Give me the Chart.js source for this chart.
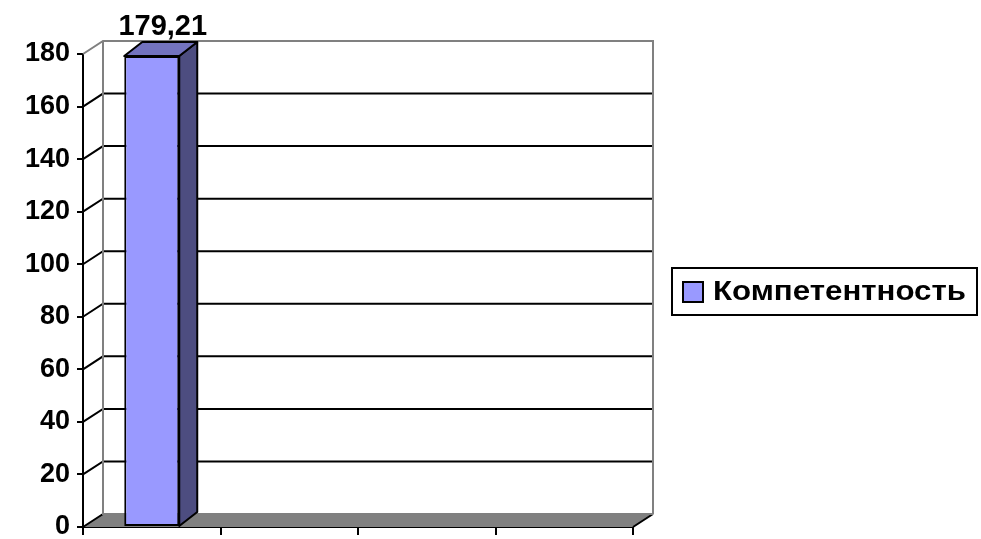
<!DOCTYPE html>
<html>
<head>
<meta charset="utf-8">
<script src="https://cdn.jsdelivr.net/npm/chart.js@4.4.1/dist/chart.umd.min.js"></script>
<style>
    html, body { margin: 0; padding: 0; background: #fff; }
    #wrap { width: 981px; height: 539px; }
</style>
</head>
<body>
<div id="wrap"><canvas id="chart"></canvas></div>
<script>
// data
const categories = ['', '', '', ''];
const seriesName = 'Компетентность';
const seriesValues = [179.21, null, null, null];
const yTickValues = [0, 20, 40, 60, 80, 100, 120, 140, 160, 180];

const FONT = 'Arial, "Liberation Sans", sans-serif';
const FRONT = '#9999ff';
const SIDE = '#4d4d80';
const TOP = '#7373bf';
const WALL_DX = 20, WALL_DY = -13;
const BAR_DX = 18, BAR_DY = -14;

function poly(ctx, pts) {
    ctx.beginPath();
    ctx.moveTo(pts[0][0], pts[0][1]);
    for (let i = 1; i < pts.length; i++) ctx.lineTo(pts[i][0], pts[i][1]);
    ctx.closePath();
}

// back wall, side wall, floor and gridlines of the 3D box
const wallsPlugin = {
    id: 'walls',
    beforeDatasetsDraw(chart) {
        const ctx = chart.ctx;
        const x = chart.scales.x, y = chart.scales.y;
        const l = x.left, r = x.right, t = y.top, b = y.bottom;
        ctx.save();
        ctx.lineWidth = 2;

        // floor
        poly(ctx, [[l, b], [r, b], [r + WALL_DX, b + WALL_DY], [l + WALL_DX, b + WALL_DY]]);
        ctx.fillStyle = '#808080';
        ctx.fill();
        ctx.strokeStyle = '#000';
        ctx.beginPath();
        ctx.moveTo(l, b); ctx.lineTo(l + WALL_DX, b + WALL_DY);
        ctx.moveTo(r, b); ctx.lineTo(r + WALL_DX, b + WALL_DY);
        ctx.stroke();

        // gridlines on side and back wall
        ctx.strokeStyle = '#000';
        y.ticks.forEach(tk => {
            if (tk.value === y.min || tk.value === y.max) return;
            const py = y.getPixelForValue(tk.value);
            ctx.beginPath();
            ctx.moveTo(l, py);
            ctx.lineTo(l + WALL_DX, py + WALL_DY);
            ctx.lineTo(r + WALL_DX, py + WALL_DY);
            ctx.stroke();
        });

        // wall outline
        ctx.strokeStyle = '#808080';
        ctx.beginPath();
        ctx.moveTo(l, t);
        ctx.lineTo(l + WALL_DX, t + WALL_DY);
        ctx.lineTo(r + WALL_DX, t + WALL_DY);
        ctx.lineTo(r + WALL_DX, b + WALL_DY);
        ctx.moveTo(l + WALL_DX, t + WALL_DY);
        ctx.lineTo(l + WALL_DX, b + WALL_DY);
        ctx.lineTo(r + WALL_DX, b + WALL_DY);
        ctx.stroke();
        ctx.restore();
    },
    afterDatasetsDraw(chart) {
        const ctx = chart.ctx;
        const meta = chart.getDatasetMeta(0);
        ctx.save();
        ctx.lineWidth = 2;
        ctx.strokeStyle = '#000';
        ctx.lineJoin = 'round';
        meta.data.forEach((bar, i) => {
            const v = seriesValues[i];
            if (v === null || v === undefined) return;
            const p = bar.getProps(['x', 'y', 'base', 'width'], true);
            const bl = p.x - p.width / 2, br = p.x + p.width / 2;
            // side face
            poly(ctx, [[br, p.y], [br + BAR_DX, p.y + BAR_DY], [br + BAR_DX, p.base + BAR_DY], [br, p.base]]);
            ctx.fillStyle = SIDE;
            ctx.fill();
            ctx.stroke();
            // top face
            poly(ctx, [[bl, p.y], [br, p.y], [br + BAR_DX, p.y + BAR_DY], [bl + BAR_DX, p.y + BAR_DY]]);
            ctx.fillStyle = TOP;
            ctx.fill();
            ctx.stroke();
            // value label
            ctx.fillStyle = '#000';
            ctx.font = 'bold 29px ' + FONT;
            ctx.textAlign = 'center';
            ctx.textBaseline = 'alphabetic';
            ctx.fillText(v.toLocaleString('ru-RU'), p.x + BAR_DX / 2 + 2, p.y + BAR_DY - 7);
        });
        ctx.restore();
    },
    afterDraw(chart) {
        // boxed legend on the right
        const ctx = chart.ctx;
        const area = chart.chartArea;
        ctx.save();
        ctx.font = 'bold 27px ' + FONT;
        const tw = ctx.measureText(seriesName).width;
        const textW = 253; // text in the original is drawn wider than Arial
        const lx = area.right + 39;
        const lh = 47;
        const ly = Math.round((area.top + area.bottom) / 2 - lh / 2 + 1);
        const lw = 41 + textW + 11;
        ctx.lineWidth = 2;
        ctx.strokeStyle = '#000';
        ctx.fillStyle = '#fff';
        ctx.fillRect(lx, ly, lw, lh);
        ctx.strokeRect(lx, ly, lw, lh);
        ctx.fillStyle = FRONT;
        ctx.fillRect(lx + 11, ly + 14, 20, 20);
        ctx.strokeRect(lx + 11, ly + 14, 20, 20);
        ctx.fillStyle = '#000';
        ctx.textAlign = 'left';
        ctx.textBaseline = 'middle';
        ctx.translate(lx + 41, ly + lh / 2 + 1);
        ctx.scale(textW / tw, 1);
        ctx.fillText(seriesName, 0, 0);
        ctx.restore();
    }
};

new Chart(document.getElementById('chart'), {
    type: 'bar',
    data: {
        labels: categories,
        datasets: [{
            label: seriesName,
            data: seriesValues,
            backgroundColor: FRONT,
            borderColor: '#000',
            borderWidth: 2,
            borderSkipped: false,
            barPercentage: 0.4,
            categoryPercentage: 1.0
        }]
    },
    options: {
        responsive: true,
        maintainAspectRatio: false,
        animation: false,
        layout: { padding: { top: 54, right: 348, bottom: 0, left: 0 } },
        plugins: {
            legend: { display: false },
            tooltip: { enabled: false }
        },
        scales: {
            x: {
                offset: true,
                grid: {
                    offset: true,
                    drawOnChartArea: false,
                    drawTicks: true,
                    tickLength: 8,
                    color: '#000',
                    tickColor: '#000',
                    lineWidth: 2
                },
                border: { display: true, color: '#000', width: 2 },
                ticks: { display: true, padding: 0, font: { size: 1 } },
                afterFit(scale) {
                    scale.height = 12;
                    scale.paddingLeft = 0;
                    scale.paddingRight = 0;
                }
            },
            y: {
                min: 0,
                max: 180,
                afterBuildTicks(scale) {
                    scale.ticks = yTickValues.map(v => ({ value: v }));
                },
                grid: {
                    drawOnChartArea: false,
                    drawTicks: true,
                    tickLength: 6,
                    color: '#000',
                    tickColor: '#000',
                    lineWidth: 2
                },
                border: { display: true, color: '#000', width: 2 },
                ticks: {
                    color: '#000',
                    padding: 7,
                    font: { family: FONT, size: 27, weight: 'bold' }
                },
                afterFit(scale) {
                    scale.width = 83;
                    scale.paddingTop = 0;
                    scale.paddingBottom = 0;
                }
            }
        }
    },
    plugins: [wallsPlugin]
});
</script>
</body>
</html>
